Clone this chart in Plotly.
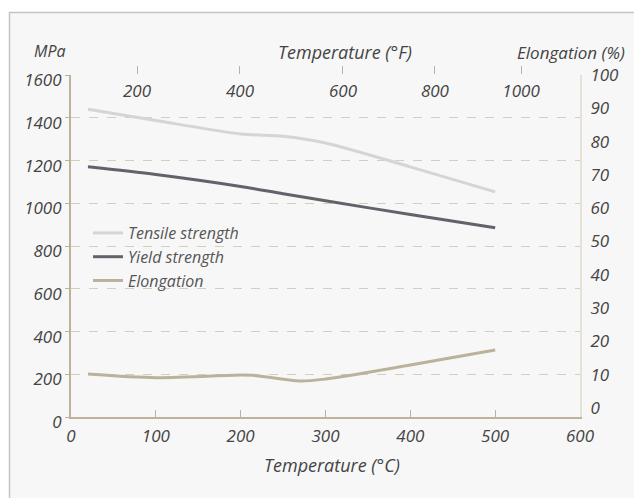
import plotly.graph_objects as go

# ---- data ----
temp_c = [20, 100, 200, 250, 300, 400, 500]
tensile = [1441, 1388, 1325, 1314, 1283, 1171, 1054]
yield_s = [1171, 1135, 1079, 1045, 1012, 948, 886]

elong_t = [20, 100, 200, 215, 270, 300, 400, 500]
elongation = [10.2, 9.1, 9.9, 9.8, 8.1, 8.7, 12.9, 17.4]

x_ticks = [0, 100, 200, 300, 400, 500, 600]
y_ticks = [0, 200, 400, 600, 800, 1000, 1200, 1400, 1600]
y2_ticks = [0, 10, 20, 30, 40, 50, 60, 70, 80, 90, 100]
f_labels = ["200", "400", "600", "800", "1000"]
f_positions = [77.8, 199.2, 320.6, 429.0, 530.5]

FONT = "Open Sans"
TXT = "#444444"
TAN = "#bdb39d"
GRID = "#d6cdbb"

fig = go.Figure()
fig.add_trace(go.Scatter(x=temp_c, y=tensile, name="Tensile strength", mode="lines",
                         line=dict(color="#d5d5d5", width=3, shape="spline", smoothing=0.8)))
fig.add_trace(go.Scatter(x=temp_c, y=yield_s, name="Yield strength", mode="lines",
                         line=dict(color="#62626a", width=3, shape="spline", smoothing=0.8)))
fig.add_trace(go.Scatter(x=elong_t, y=elongation, name="Elongation", mode="lines", yaxis="y2",
                         line=dict(color="#bcb29b", width=3, shape="spline", smoothing=0.8)))
# invisible traces to activate top axes
fig.add_trace(go.Scatter(x=[0, 600], y=[0, 0], xaxis="x2", mode="lines",
                         line=dict(width=0), showlegend=False, hoverinfo="skip", opacity=0))
fig.add_trace(go.Scatter(x=[0, 600], y=[0, 0], xaxis="x3", mode="lines",
                         line=dict(width=0), showlegend=False, hoverinfo="skip", opacity=0))

tickfont = dict(family=FONT, size=17, color=TXT, style="italic")

W, H = 634, 498
L, R, T, B = 71, 54, 75, 81
pw, ph = W - L - R, H - T - B

def px_x(p):
    return (p - L) / pw

def px_y(p):
    return (H - B - p) / ph

fig.update_layout(
    width=W, height=H,
    margin=dict(l=L, r=R, t=T, b=B),
    paper_bgcolor="white",
    plot_bgcolor="rgba(0,0,0,0)",
    font=dict(family=FONT, size=17, color=TXT),
    xaxis=dict(range=[0, 600], tickvals=x_ticks, showline=True, linecolor=TAN, linewidth=2,
               ticks="inside", ticklen=7, tickcolor=TAN, tickwidth=1, showgrid=False,
               zeroline=False, tickfont=tickfont, ticklabelstandoff=3),
    # top axis: tick marks only
    xaxis2=dict(range=[0, 600], overlaying="x", side="top", tickvals=f_positions,
                showticklabels=False, showline=False, ticks="outside", ticklen=8,
                tickcolor=TAN, tickwidth=1, showgrid=False, zeroline=False),
    # top axis labels (°F), placed just inside the plot top
    xaxis3=dict(range=[0, 600], overlaying="x", anchor="free", position=px_y(79),
                side="bottom", tickvals=f_positions, ticktext=f_labels, showline=False,
                ticks="", showgrid=False, zeroline=False, tickfont=tickfont),
    yaxis=dict(range=[0, 1601], tickvals=y_ticks, showline=True, linecolor=TAN, linewidth=2,
               ticks="outside", ticklen=4, tickcolor=TAN, showgrid=True, gridcolor=GRID,
               griddash="dash", gridwidth=1, zeroline=False, tickfont=tickfont,
               ticklabelshift=5, ticklabelstandoff=0),
    yaxis2=dict(range=[-2.7, 100], tickvals=y2_ticks, overlaying="y", side="right",
                showline=True, linecolor="#e6e1d7", linewidth=2, ticks="", showgrid=False,
                zeroline=False, tickfont=tickfont, ticklabelstandoff=5),
    legend=dict(x=px_x(88), y=px_y(216), xanchor="left", yanchor="top",
                bgcolor="rgba(0,0,0,0)",
                font=dict(family=FONT, size=16, color="#555555", style="italic"),
                tracegroupgap=0, itemwidth=30),
    showlegend=True,
)

# panel background with border
fig.add_shape(type="rect", xref="paper", yref="paper",
              x0=px_x(9.5), x1=px_x(660), y0=px_y(520), y1=px_y(12.5),
              fillcolor="#f7f7f7", line=dict(color="#c4c4c4", width=1.5), layer="below")

fig.add_annotation(text="MPa", xref="paper", yref="paper", x=px_x(50), y=px_y(51),
                   showarrow=False, font=dict(family=FONT, size=16, color=TXT, style="italic"),
                   xanchor="center", yanchor="middle")
fig.add_annotation(text="Temperature (°F)", xref="paper", yref="paper", x=px_x(345), y=px_y(52),
                   showarrow=False, font=dict(family=FONT, size=18, color=TXT, style="italic"),
                   xanchor="center", yanchor="middle")
fig.add_annotation(text="Elongation (%)", xref="paper", yref="paper", x=px_x(627), y=px_y(52),
                   showarrow=False, font=dict(family=FONT, size=17, color=TXT, style="italic"),
                   xanchor="right", yanchor="middle")
fig.add_annotation(text="Temperature (°C)", xref="paper", yref="paper", x=px_x(332), y=px_y(465),
                   showarrow=False, font=dict(family=FONT, size=18, color=TXT, style="italic"),
                   xanchor="center", yanchor="middle")

fig.write_html("out.html")
